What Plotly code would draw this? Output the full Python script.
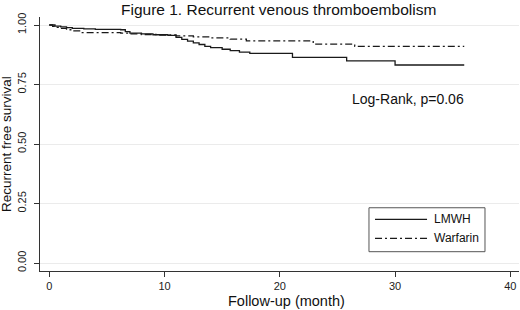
import plotly.graph_objects as go

# Kaplan-Meier step data
lmwh_t = [0, 0.5, 1, 1.5, 2, 3, 4, 6.2, 6.6, 7, 8, 9, 10.3, 11, 11.5, 12, 12.5, 13, 13.5, 14, 15, 15.7, 16.5, 17.4, 21.1, 25.8, 30, 36]
lmwh_s = [1, 0.995, 0.992, 0.989, 0.986, 0.984, 0.982, 0.98, 0.972, 0.966, 0.963, 0.959, 0.956, 0.948, 0.94, 0.932, 0.925, 0.918, 0.91, 0.905, 0.898, 0.892, 0.886, 0.881, 0.864, 0.849, 0.832, 0.832]

warf_t = [0, 0.3, 0.7, 1, 1.5, 2, 2.7, 6.2, 7, 8, 9.5, 11, 12.5, 14, 15.7, 17.1, 22.9, 26.5, 36]
warf_s = [1, 0.994, 0.99, 0.986, 0.98, 0.975, 0.968, 0.966, 0.963, 0.96, 0.958, 0.954, 0.95, 0.946, 0.941, 0.933, 0.92, 0.91, 0.91]

series_names = ["LMWH", "Warfarin"]
x_ticks = [0, 10, 20, 30, 40]
y_ticks = [0, 0.25, 0.5, 0.75, 1.0]
y_tick_labels = ["0.00", "0.25", "0.50", "0.75", "1.00"]

FONT = "Liberation Sans, Arial, sans-serif"
INK = "#1a1a1a"
DASHDOT = "7px,3px,2px,3px"

fig = go.Figure()
fig.add_trace(go.Scatter(x=lmwh_t, y=lmwh_s, mode="lines", name=series_names[0],
                         line=dict(color=INK, width=1.3, shape="hv")))
fig.add_trace(go.Scatter(x=warf_t, y=warf_s, mode="lines", name=series_names[1],
                         line=dict(color=INK, width=1.3, shape="hv", dash=DASHDOT)))

fig.add_annotation(x=31.1, y=0.689, text="Log-Rank, p=0.06", showarrow=False,
                   font=dict(size=14, color="#111", family=FONT))
fig.add_annotation(xref="paper", yref="paper", x=0.498, y=1.031, text="Figure 1. Recurrent venous thromboembolism",
                   showarrow=False, xanchor="center", yanchor="middle",
                   font=dict(size=15.5, color="#111", family=FONT))
fig.add_annotation(xref="paper", yref="paper", x=0.5136, y=-0.118, text="Follow-up (month)",
                   showarrow=False, xanchor="center", yanchor="middle",
                   font=dict(size=14.5, color="#111", family=FONT))
fig.add_annotation(xref="paper", yref="paper", x=-0.071, y=0.5, text="Recurrent free survival",
                   showarrow=False, xanchor="center", yanchor="middle", textangle=-90,
                   font=dict(size=13.5, color="#111", family=FONT))

# legend box (drawn manually to match the long line samples)
fig.add_shape(type="rect", xref="paper", yref="paper", x0=0.6868, x1=0.929, y0=0.076, y1=0.249,
              line=dict(color="#555", width=1), fillcolor="white", layer="above")
leg_y = [0.2035, 0.1287]
leg_dash = ["solid", DASHDOT]
for nm, yy, dd in zip(series_names, leg_y, leg_dash):
    fig.add_shape(type="line", xref="paper", yref="paper", x0=0.6994, x1=0.808, y0=yy, y1=yy,
                  line=dict(color=INK, width=1.3, dash=dd), layer="above")
    fig.add_annotation(xref="paper", yref="paper", x=0.818, y=yy, text=nm, showarrow=False,
                       xanchor="left", yanchor="middle", font=dict(size=12, color="#111", family=FONT))

fig.update_layout(
    width=520, height=310,
    margin=dict(l=40, r=1, t=17, b=39, autoexpand=False),
    paper_bgcolor="white", plot_bgcolor="white",
    font=dict(family=FONT, color="#111"),
    showlegend=False,
    xaxis=dict(range=[-0.8, 40.75], tickvals=x_ticks, ticks="outside", ticklen=5,
               tickcolor="#333", showline=True, linecolor="#333", linewidth=1,
               showgrid=False, zeroline=False, tickfont=dict(size=11, color="#222"),
               automargin=False),
    yaxis=dict(range=[-0.0336, 1.0336], tickvals=y_ticks, ticktext=y_tick_labels,
               ticks="outside", ticklen=5, tickcolor="#333", showline=True,
               linecolor="#333", linewidth=1, showgrid=True, gridcolor="#ebebeb",
               zeroline=False, tickangle=-90, tickfont=dict(size=11, color="#222"),
               ticklabelstandoff=4, automargin=False),
)

fig.write_html("out.html", config={"displayModeBar": False},
               post_script="document.body.style.margin='0';")
